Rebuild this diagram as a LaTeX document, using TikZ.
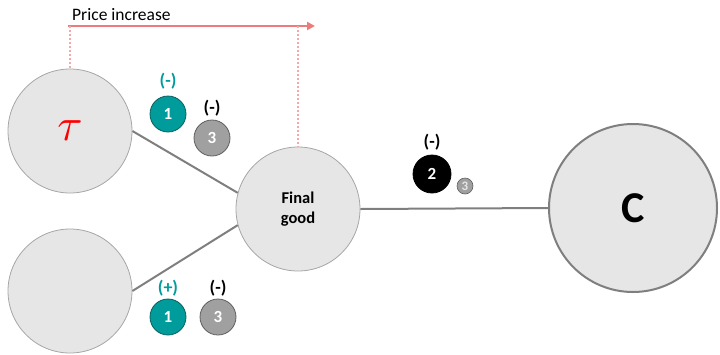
\documentclass[tikz,border=0pt]{standalone}
\usepackage{fontspec}
\setmainfont{Carlito}
\usetikzlibrary{arrows.meta}
\definecolor{cfill}{HTML}{E6E6E6}
\definecolor{cborder}{HTML}{A6A6A6}
\definecolor{cborderdark}{HTML}{7F7F7F}
\definecolor{linec}{HTML}{7F7F7F}
\definecolor{tealc}{HTML}{009B9B}
\definecolor{tealdark}{HTML}{0B5F5F}
\definecolor{grayb}{HTML}{A0A0A0}
\definecolor{graybd}{HTML}{5F5F5F}
\definecolor{pricec}{HTML}{EE7B7B}
\definecolor{pricedotc}{HTML}{F4A9A9}
\definecolor{taured}{HTML}{FF0000}
\begin{document}
\begin{tikzpicture}[x=1pt,y=-1pt,
  bigc/.style={circle,fill=cfill,draw=cborder,line width=0.8pt,minimum size=124pt,inner sep=0pt},
  badge/.style={circle,minimum size=36pt,inner sep=0pt,text=white,line width=0.8pt,
    font=\fontsize{17}{17}\selectfont\bfseries},
  tealbadge/.style={badge,fill=tealc,draw=tealdark},
  graybadge/.style={badge,fill=grayb,draw=graybd},
  blackbadge/.style={badge,fill=black,draw=black,minimum size=38pt},
  sign/.style={font=\fontsize{18}{18}\selectfont\bfseries,inner sep=0pt},
  conn/.style={draw=linec,line width=2pt},
  pricearrow/.style={draw=pricec,line width=2.4pt,-{Triangle[length=8pt,width=8pt]}},
  pricedot/.style={draw=pricedotc,line width=2.4pt,dash pattern=on 2pt off 2pt}]
\useasboundingbox (0,0) rectangle (720,354);
% big circles
\node[bigc] (tau) at (70,131) {\textcolor{taured}{\scalebox{4.6}{$\tau$}}};
\node[bigc] (low) at (70,291) {};
\node[bigc,font=\fontsize{16.5}{20}\selectfont\bfseries,align=center] (fg) at (298,209) {Final\\good};
\node[circle,fill=cfill,draw=cborderdark,line width=2pt,minimum size=168pt,inner sep=0pt,
  font=\fontsize{44}{44}\selectfont\bfseries] (C) at (633,208) {C};
% connectors
\draw[conn] (tau.east) -- (fg.165);
\draw[conn] (low.east) -- (fg.195);
\draw[conn] (fg.east) -- (C.west);
% price increase
\coordinate (ps) at (68,26);
\coordinate (pe) at (315,26);
\draw[pricearrow] (ps) -- (pe);
\node[anchor=west,font=\fontsize{17.5}{17.5}\selectfont,inner sep=0pt] (pl) at (72,15) {Price increase};
\draw[pricedot] (tau.north |- ps) -- (tau.north);
\draw[pricedot] (fg.north |- ps) -- (fg.north);
% top badges
\node[tealbadge] (t1) at (168,114) {1};
\node[sign,text=tealc] (t1s) at (168,81) {(-)};
\node[graybadge] (t3) at (212,138) {3};
\node[sign] (t3s) at (212,108) {(-)};
% bottom badges
\node[tealbadge] (b1) at (168,317) {1};
\node[sign,text=tealc] (b1s) at (168,288) {(+)};
\node[graybadge] (b3) at (218,317) {3};
\node[sign] (b3s) at (218,288) {(-)};
% right badges
\node[blackbadge] (r2) at (432,174) {2};
\node[sign] (r2s) at (432,142) {(-)};
\node[circle,fill=grayb,draw=graybd,line width=0.6pt,minimum size=16pt,inner sep=0pt,
  text=cfill,font=\fontsize{13}{13}\selectfont\bfseries] (r3) at (465,186) {3};
\end{tikzpicture}
\end{document}
